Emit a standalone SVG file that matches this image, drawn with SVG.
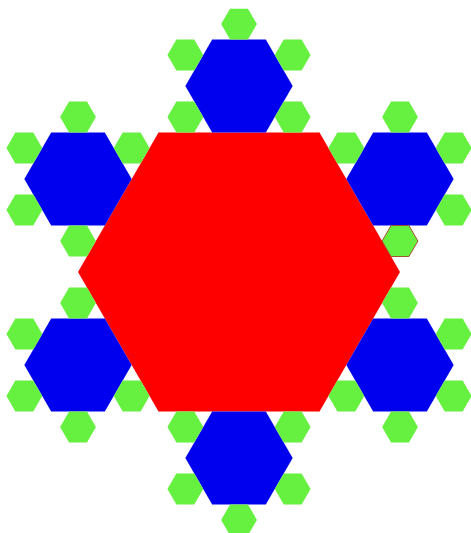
<svg xmlns="http://www.w3.org/2000/svg" xmlns:xlink="http://www.w3.org/1999/xlink" width="471" height="533" viewBox="0 0 471 533">
  <style>
    .red { fill: #ff0000; }
    .blue { fill: #0000ee; }
    .green { fill: #66f040; }
    .outlined { stroke: #a0522d; stroke-width: 1; }
  </style>
  <defs>
    <polygon id="hexR" points="161,0 80.5,139.43 -80.5,139.43 -161,0 -80.5,-139.43 80.5,-139.43"/>
    <polygon id="hexB" points="53.67,0 26.83,46.48 -26.83,46.48 -53.67,0 -26.83,-46.48 26.83,-46.48"/>
    <polygon id="hexG" points="17.89,0 8.94,15.49 -8.94,15.49 -17.89,0 -8.94,-15.49 8.94,-15.49"/>
  </defs>
  <rect width="471" height="533" fill="#ffffff"/>

  <g id="red-center" transform="translate(239,272)">
    <use href="#hexR" class="red"/>
  </g>

  <g id="cluster-top" transform="translate(239,86.09)">
    <use href="#hexB" class="blue"/>
    <use href="#hexG" class="green" x="0" y="-61.97"/>
    <use href="#hexG" class="green" x="53.67" y="-30.99"/>
    <use href="#hexG" class="green" x="-53.67" y="-30.99"/>
    <use href="#hexG" class="green" x="-53.67" y="30.99"/>
    <use href="#hexG" class="green" x="53.67" y="30.99"/>
  </g>

  <g id="cluster-upper-right" transform="translate(400,179.04)">
    <use href="#hexB" class="blue"/>
    <use href="#hexG" class="green" x="0" y="-61.97"/>
    <use href="#hexG" class="green" x="53.67" y="-30.99"/>
    <use href="#hexG" class="green" x="-53.67" y="-30.99"/>
    <use href="#hexG" class="green" x="53.67" y="30.99"/>
    <use href="#hexG" class="green outlined" x="0" y="61.97"/>
  </g>

  <g id="cluster-upper-left" transform="translate(78,179.04)">
    <use href="#hexB" class="blue"/>
    <use href="#hexG" class="green" x="0" y="-61.97"/>
    <use href="#hexG" class="green" x="53.67" y="-30.99"/>
    <use href="#hexG" class="green" x="-53.67" y="-30.99"/>
    <use href="#hexG" class="green" x="-53.67" y="30.99"/>
    <use href="#hexG" class="green" x="0" y="61.97"/>
  </g>

  <g id="cluster-lower-left" transform="translate(78,364.96)">
    <use href="#hexB" class="blue"/>
    <use href="#hexG" class="green" x="0" y="-61.97"/>
    <use href="#hexG" class="green" x="-53.67" y="-30.99"/>
    <use href="#hexG" class="green" x="-53.67" y="30.99"/>
    <use href="#hexG" class="green" x="53.67" y="30.99"/>
    <use href="#hexG" class="green" x="0" y="61.97"/>
  </g>

  <g id="cluster-bottom" transform="translate(239,457.91)">
    <use href="#hexB" class="blue"/>
    <use href="#hexG" class="green" x="53.67" y="-30.99"/>
    <use href="#hexG" class="green" x="-53.67" y="-30.99"/>
    <use href="#hexG" class="green" x="-53.67" y="30.99"/>
    <use href="#hexG" class="green" x="53.67" y="30.99"/>
    <use href="#hexG" class="green" x="0" y="61.97"/>
  </g>

  <g id="cluster-lower-right" transform="translate(400,364.96)">
    <use href="#hexB" class="blue"/>
    <use href="#hexG" class="green" x="0" y="-61.97"/>
    <use href="#hexG" class="green" x="53.67" y="-30.99"/>
    <use href="#hexG" class="green" x="-53.67" y="30.99"/>
    <use href="#hexG" class="green" x="53.67" y="30.99"/>
    <use href="#hexG" class="green" x="0" y="61.97"/>
  </g>

  <g id="connectors"/>
</svg>
